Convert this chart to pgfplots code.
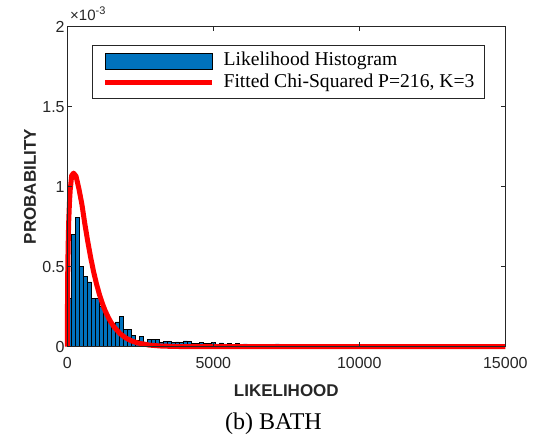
\documentclass[border=0pt]{standalone}
\usepackage{fontspec}
\setmainfont{Liberation Serif}
\newfontfamily\arial{Liberation Sans}
\usepackage{pgfplots}
\pgfplotsset{compat=1.18}
\definecolor{mblue}{RGB}{0,114,189}
\definecolor{agray}{RGB}{38,38,38}
\begin{document}
\begin{tikzpicture}
\begin{axis}[
 name=ax,
 scale only axis, width=438pt, height=320pt,
 xmin=0, xmax=15000, ymin=0, ymax=2,
 scaled x ticks=false, scaled y ticks=false,
 xtick={0,5000,10000,15000}, xticklabels={0,5000,10000,15000},
 ytick={0,0.5,1,1.5,2}, yticklabels={0,0.5,1,1.5,2},
 tick align=inside, major tick length=4.5pt,
 axis line style={agray, line width=0.6pt},
 every tick/.style={agray, line width=0.6pt},
 tick label style={font=\arial\fontsize{16}{19}\selectfont, text=agray},
 xticklabel style={yshift=-7.5pt},
 yticklabel style={inner xsep=2.5pt},
 xlabel={LIKELIHOOD}, ylabel={PROBABILITY},
 label style={font=\arial\bfseries\fontsize{17}{20}\selectfont, text=agray},
 x label style={at={(axis description cs:0.5,-0.1375)}, anchor=center},
 y label style={at={(axis description cs:-0.085,0.5)}, anchor=center},
 axis on top, clip=false,
 legend cell align=left,
 legend style={at={(axis description cs:0.0571,0.9428)}, anchor=north west,
   draw=agray, line width=0.6pt, fill=white, inner xsep=10pt, inner ysep=5pt,
   font=\fontsize{19.6}{23}\selectfont, row sep=0pt,
   nodes={inner xsep=0pt, inner ysep=1.5pt, text height=14pt, text depth=4.5pt},
   /tikz/every odd column/.append style={column sep=9pt}},
]
\addplot[ybar interval, fill=mblue, draw=black, line width=0.5pt,
  legend image code/.code={\draw[fill=mblue, draw=black, line width=0.6pt] (0pt,-7.8pt) rectangle (107pt,7.8pt);}]
 coordinates {
 (0,0.30) (137,0.70) (274,0.81) (411,0.50) (548,0.44) (685,0.405) (822,0.30) (959,0.30)
 (1096,0.25) (1233,0.22) (1370,0.165) (1507,0.145) (1644,0.155) (1781,0.19) (1918,0.11)
 (2055,0.11) (2192,0.07) (2329,0.04) (2466,0.063) (2603,0.03) (2740,0.044) (2877,0.044)
 (3014,0.044) (3151,0.025) (3288,0.035) (3425,0.035) (3562,0.025) (3699,0.03) (3836,0.028)
 (3973,0.036) (4110,0.035) (4247,0.022) (4384,0.022) (4521,0.028) (4658,0.022) (4795,0.022)
 (4932,0.025) (5069,0.018) (5206,0.024) (5343,0.018) (5480,0.02) (5617,0.012) (5754,0.02)
 (5891,0.01) (6028,0.018) (6165,0.008) (6302,0.015) (6439,0.012) (6576,0.005) (6713,0.005)
 (6850,0.015) (6987,0.008) (7124,0.018) (7261,0.005) (7398,0.005) (7535,0.005) (7672,0.005)
 (7809,0.012) (7946,0.005) (8083,0.01) (8220,0.008) (8357,0.004) (8494,0.003) (8631,0)
 };
\addlegendentry{Likelihood Histogram}
\addplot[red, line width=5pt, line join=round,
  legend image code/.code={\draw[red, line width=5pt] (0pt,0pt) -- (107pt,0pt);}]
 coordinates {
 (0,0) (10,0.388) (20,0.537) (35,0.686) (50,0.79) (75,0.905) (100,0.98) (150,1.07)
 (216,1.085) (300,1.065) (400,0.985) (500,0.89) (600,0.768) (700,0.658) (800,0.558)
 (900,0.469) (1000,0.3925) (1100,0.3267) (1200,0.2707) (1300,0.2234) (1400,0.1841)
 (1500,0.1512) (1600,0.1238) (1800,0.0827) (2000,0.0549) (2200,0.0362) (2400,0.0238)
 (2800,0.0102) (3200,0.0043) (3600,0.0018) (4000,0.0008) (5000,0.0001) (6000,0) (15000,0)
 };
\addlegendentry{Fitted Chi-Squared P=216, K=3}
\end{axis}
\node[anchor=base west, font=\arial\fontsize{15}{18}\selectfont, text=agray, inner sep=0pt]
  at ([xshift=2.7pt,yshift=6pt]ax.north west) {×10\raisebox{6.5pt}{\fontsize{11}{13}\selectfont -3}};
\node[anchor=base, font=\fontsize{24}{28}\selectfont, inner sep=0pt]
  at ([xshift=206.1pt,yshift=-82.5pt]ax.south west) {(b) BATH};
\pgfresetboundingbox
\path[use as bounding box] ([xshift=-67.3pt,yshift=-89.3pt]ax.south west) rectangle ([xshift=39.7pt,yshift=26.7pt]ax.north east);
\end{tikzpicture}
\end{document}
